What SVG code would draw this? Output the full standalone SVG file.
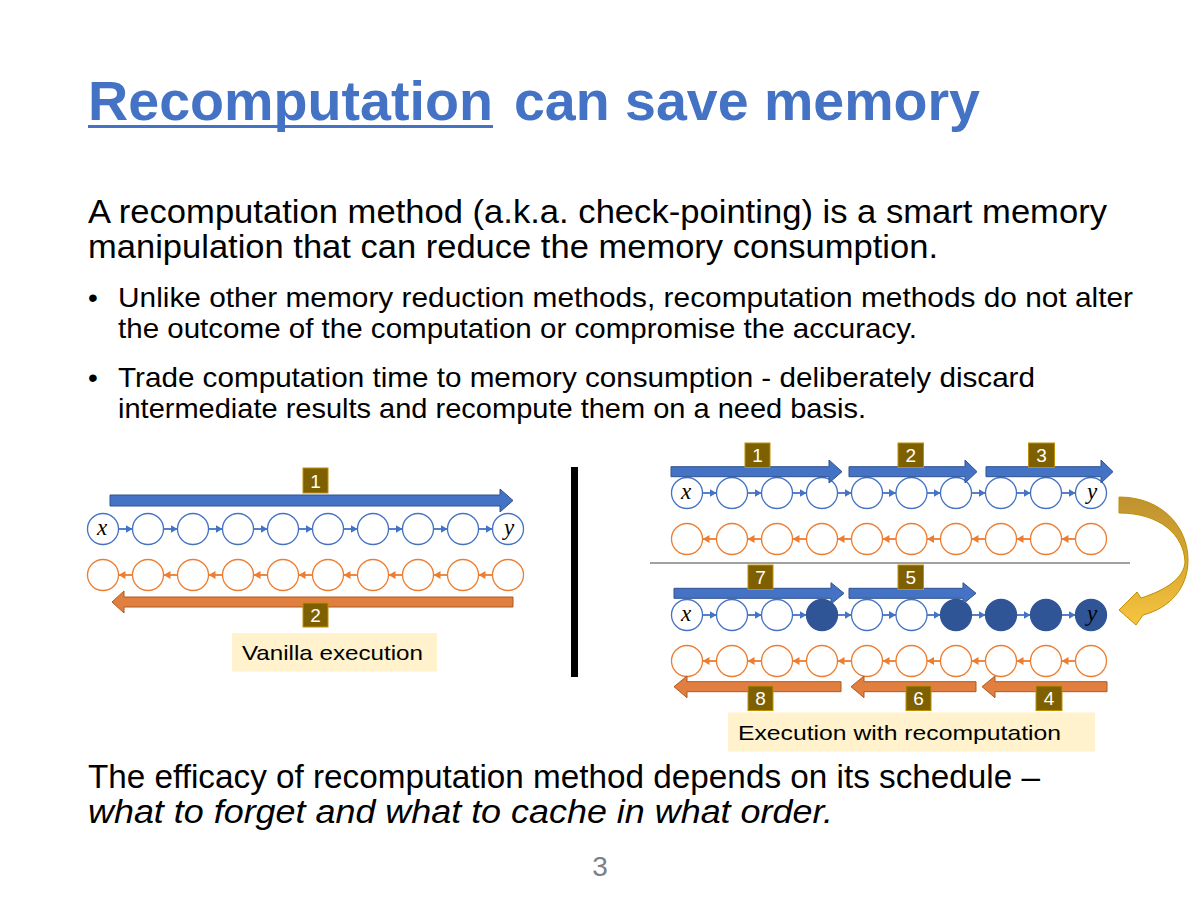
<svg xmlns="http://www.w3.org/2000/svg" width="1200" height="900" viewBox="0 0 1200 900">
<style>
.t{font-family:"Liberation Sans",Arial,sans-serif;fill:#000}
.fc{fill:#fff;stroke:#4472c4;stroke-width:1.3}
.bc{fill:#fff;stroke:#ed7d31;stroke-width:1.3}
.dc{fill:#2f5597;stroke:#2f5597;stroke-width:1.3}
.fl{stroke:#4472c4;stroke-width:1.8;marker-end:url(#mb)}
.bl{stroke:#ed7d31;stroke-width:1.8;marker-end:url(#mo)}
.ba{fill:#4472c4;stroke:#2f528f;stroke-width:1}
.oa{fill:#e07f40;stroke:#ae5a21;stroke-width:1}
.lb{fill:#7f6000;stroke:#bf9000;stroke-width:1}
.lt{font-family:"Liberation Sans",Arial,sans-serif;font-size:19px;fill:#fff;text-anchor:middle}
.v{font-family:"Liberation Serif","Times New Roman",serif;font-style:italic;font-size:23px;text-anchor:middle;fill:#000}
.cap{fill:#fff2cc}
</style>
<defs>
<marker id="mb" markerUnits="userSpaceOnUse" markerWidth="7" markerHeight="8" refX="7" refY="4" orient="auto"><path d="M0,0 L7,4 L0,8 z" fill="#4472c4"/></marker>
<marker id="mo" markerUnits="userSpaceOnUse" markerWidth="7" markerHeight="8" refX="7" refY="4" orient="auto"><path d="M0,0 L7,4 L0,8 z" fill="#ed7d31"/></marker>
<linearGradient id="gold" x1="0" y1="0" x2="0" y2="1"><stop offset="0" stop-color="#bf9230"/><stop offset="0.5" stop-color="#d9a832"/><stop offset="1" stop-color="#f7c440"/></linearGradient>
</defs>
<rect width="1200" height="900" fill="#fff"/>

<g id="title">
<text x="88" y="120" font-family="Liberation Sans,Arial,sans-serif" font-weight="bold" font-size="55" fill="#4472c4" textLength="405" lengthAdjust="spacingAndGlyphs">Recomputation</text>
<rect x="88" y="125" width="405" height="3" fill="#4472c4"/>
<text x="514" y="120" font-family="Liberation Sans,Arial,sans-serif" font-weight="bold" font-size="55" fill="#4472c4" textLength="466" lengthAdjust="spacingAndGlyphs">can save memory</text>
</g>

<g id="body-text">
<text class="t" x="88" y="223" font-size="33" textLength="1019" lengthAdjust="spacingAndGlyphs">A recomputation method (a.k.a. check-pointing) is a smart memory</text>
<text class="t" x="88" y="258" font-size="33" textLength="850" lengthAdjust="spacingAndGlyphs">manipulation that can reduce the memory consumption.</text>
<text class="t" x="88" y="307" font-size="28">•</text>
<text class="t" x="118" y="307" font-size="28" textLength="1015" lengthAdjust="spacingAndGlyphs">Unlike other memory reduction methods, recomputation methods do not alter</text>
<text class="t" x="118" y="338" font-size="28" textLength="799" lengthAdjust="spacingAndGlyphs">the outcome of the computation or compromise the accuracy.</text>
<text class="t" x="88" y="387" font-size="28">•</text>
<text class="t" x="118" y="387" font-size="28" textLength="917" lengthAdjust="spacingAndGlyphs">Trade computation time to memory consumption - deliberately discard</text>
<text class="t" x="118" y="418" font-size="28" textLength="748" lengthAdjust="spacingAndGlyphs">intermediate results and recompute them on a need basis.</text>
<text class="t" x="88" y="788" font-size="33" textLength="952" lengthAdjust="spacingAndGlyphs">The efficacy of recomputation method depends on its schedule –</text>
<text class="t" x="88" y="823" font-size="33" font-style="italic" textLength="745" lengthAdjust="spacingAndGlyphs">what to forget and what to cache in what order.</text>
<text x="600" y="876" font-family="Liberation Sans,Arial,sans-serif" font-size="28" fill="#7f7f7f" text-anchor="middle">3</text>
</g>

<g id="divider"><rect x="571" y="467" width="7" height="210" fill="#000"/></g>
<g id="separator"><line x1="650" y1="563" x2="1130" y2="563" stroke="#808080" stroke-width="1.5"/></g>

<g id="connectors">
<line class="fl" x1="118.5" y1="529" x2="132.5" y2="529"/>
<line class="fl" x1="163.5" y1="529" x2="177.5" y2="529"/>
<line class="fl" x1="208.5" y1="529" x2="222.5" y2="529"/>
<line class="fl" x1="253.5" y1="529" x2="267.5" y2="529"/>
<line class="fl" x1="298.5" y1="529" x2="312.5" y2="529"/>
<line class="fl" x1="343.5" y1="529" x2="357.5" y2="529"/>
<line class="fl" x1="388.5" y1="529" x2="402.5" y2="529"/>
<line class="fl" x1="433.5" y1="529" x2="447.5" y2="529"/>
<line class="fl" x1="478.5" y1="529" x2="492.5" y2="529"/>
<line class="bl" x1="132.5" y1="575" x2="118.5" y2="575"/>
<line class="bl" x1="177.5" y1="575" x2="163.5" y2="575"/>
<line class="bl" x1="222.5" y1="575" x2="208.5" y2="575"/>
<line class="bl" x1="267.5" y1="575" x2="253.5" y2="575"/>
<line class="bl" x1="312.5" y1="575" x2="298.5" y2="575"/>
<line class="bl" x1="357.5" y1="575" x2="343.5" y2="575"/>
<line class="bl" x1="402.5" y1="575" x2="388.5" y2="575"/>
<line class="bl" x1="447.5" y1="575" x2="433.5" y2="575"/>
<line class="bl" x1="492.5" y1="575" x2="478.5" y2="575"/>
<line class="fl" x1="702.5" y1="493" x2="716.5" y2="493"/>
<line class="fl" x1="747.5" y1="493" x2="761.5" y2="493"/>
<line class="fl" x1="792.5" y1="493" x2="806.5" y2="493"/>
<line class="fl" x1="837.5" y1="493" x2="851.5" y2="493"/>
<line class="fl" x1="882.5" y1="493" x2="896" y2="493"/>
<line class="fl" x1="927" y1="493" x2="940.5" y2="493"/>
<line class="fl" x1="971.5" y1="493" x2="985.5" y2="493"/>
<line class="fl" x1="1016.5" y1="493" x2="1030.5" y2="493"/>
<line class="fl" x1="1061.5" y1="493" x2="1075.5" y2="493"/>
<line class="bl" x1="716.5" y1="539" x2="702.5" y2="539"/>
<line class="bl" x1="761.5" y1="539" x2="747.5" y2="539"/>
<line class="bl" x1="806.5" y1="539" x2="792.5" y2="539"/>
<line class="bl" x1="851.5" y1="539" x2="837.5" y2="539"/>
<line class="bl" x1="896" y1="539" x2="882.5" y2="539"/>
<line class="bl" x1="940.5" y1="539" x2="927" y2="539"/>
<line class="bl" x1="985.5" y1="539" x2="971.5" y2="539"/>
<line class="bl" x1="1030.5" y1="539" x2="1016.5" y2="539"/>
<line class="bl" x1="1075.5" y1="539" x2="1061.5" y2="539"/>
<line class="fl" x1="702.5" y1="615" x2="716.5" y2="615"/>
<line class="fl" x1="747.5" y1="615" x2="761.5" y2="615"/>
<line class="fl" x1="792.5" y1="615" x2="806.5" y2="615"/>
<line class="fl" x1="837.5" y1="615" x2="851.5" y2="615"/>
<line class="fl" x1="882.5" y1="615" x2="896" y2="615"/>
<line class="fl" x1="927" y1="615" x2="940.5" y2="615"/>
<line class="fl" x1="971.5" y1="615" x2="985.5" y2="615"/>
<line class="fl" x1="1016.5" y1="615" x2="1030.5" y2="615"/>
<line class="fl" x1="1061.5" y1="615" x2="1075.5" y2="615"/>
<line class="bl" x1="716.5" y1="661" x2="702.5" y2="661"/>
<line class="bl" x1="761.5" y1="661" x2="747.5" y2="661"/>
<line class="bl" x1="806.5" y1="661" x2="792.5" y2="661"/>
<line class="bl" x1="851.5" y1="661" x2="837.5" y2="661"/>
<line class="bl" x1="896" y1="661" x2="882.5" y2="661"/>
<line class="bl" x1="940.5" y1="661" x2="927" y2="661"/>
<line class="bl" x1="985.5" y1="661" x2="971.5" y2="661"/>
<line class="bl" x1="1030.5" y1="661" x2="1016.5" y2="661"/>
<line class="bl" x1="1075.5" y1="661" x2="1061.5" y2="661"/>
</g>

<g id="L-f0"><circle class="fc" cx="103" cy="529" r="15.5"/><text class="v" x="102" y="535">x</text></g>
<g id="L-f1"><circle class="fc" cx="148" cy="529" r="15.5"/></g>
<g id="L-f2"><circle class="fc" cx="193" cy="529" r="15.5"/></g>
<g id="L-f3"><circle class="fc" cx="238" cy="529" r="15.5"/></g>
<g id="L-f4"><circle class="fc" cx="283" cy="529" r="15.5"/></g>
<g id="L-f5"><circle class="fc" cx="328" cy="529" r="15.5"/></g>
<g id="L-f6"><circle class="fc" cx="373" cy="529" r="15.5"/></g>
<g id="L-f7"><circle class="fc" cx="418" cy="529" r="15.5"/></g>
<g id="L-f8"><circle class="fc" cx="463" cy="529" r="15.5"/></g>
<g id="L-f9"><circle class="fc" cx="508" cy="529" r="15.5"/><text class="v" x="509" y="535">y</text></g>
<g id="L-b0"><circle class="bc" cx="103" cy="575" r="15.5"/></g>
<g id="L-b1"><circle class="bc" cx="148" cy="575" r="15.5"/></g>
<g id="L-b2"><circle class="bc" cx="193" cy="575" r="15.5"/></g>
<g id="L-b3"><circle class="bc" cx="238" cy="575" r="15.5"/></g>
<g id="L-b4"><circle class="bc" cx="283" cy="575" r="15.5"/></g>
<g id="L-b5"><circle class="bc" cx="328" cy="575" r="15.5"/></g>
<g id="L-b6"><circle class="bc" cx="373" cy="575" r="15.5"/></g>
<g id="L-b7"><circle class="bc" cx="418" cy="575" r="15.5"/></g>
<g id="L-b8"><circle class="bc" cx="463" cy="575" r="15.5"/></g>
<g id="L-b9"><circle class="bc" cx="508" cy="575" r="15.5"/></g>

<g id="L-arrow1"><polygon class="ba" points="110,495 500,495 500,489 513,500.5 500,512 500,506 110,506"/><rect class="lb" x="303" y="468" width="25" height="25"/><text class="lt" x="315.5" y="487.5">1</text></g>
<g id="L-arrow2"><polygon class="oa" points="513,597 124,597 124,591 112,602 124,613 124,607 513,607"/><rect class="lb" x="303" y="603" width="25" height="24"/><text class="lt" x="315.5" y="622">2</text></g>
<g id="L-caption"><rect class="cap" x="232" y="633" width="205" height="38.5"/><text class="t" x="242" y="660" font-size="21" textLength="181" lengthAdjust="spacingAndGlyphs">Vanilla execution</text></g>

<g id="RT-f0"><circle class="fc" cx="687" cy="493" r="15.5"/><text class="v" x="686" y="499">x</text></g>
<g id="RT-f1"><circle class="fc" cx="732" cy="493" r="15.5"/></g>
<g id="RT-f2"><circle class="fc" cx="777" cy="493" r="15.5"/></g>
<g id="RT-f3"><circle class="fc" cx="822" cy="493" r="15.5"/></g>
<g id="RT-f4"><circle class="fc" cx="867" cy="493" r="15.5"/></g>
<g id="RT-f5"><circle class="fc" cx="911.5" cy="493" r="15.5"/></g>
<g id="RT-f6"><circle class="fc" cx="956" cy="493" r="15.5"/></g>
<g id="RT-f7"><circle class="fc" cx="1001" cy="493" r="15.5"/></g>
<g id="RT-f8"><circle class="fc" cx="1046" cy="493" r="15.5"/></g>
<g id="RT-f9"><circle class="fc" cx="1091" cy="493" r="15.5"/><text class="v" x="1092" y="499">y</text></g>
<g id="RT-b0"><circle class="bc" cx="687" cy="539" r="15.5"/></g>
<g id="RT-b1"><circle class="bc" cx="732" cy="539" r="15.5"/></g>
<g id="RT-b2"><circle class="bc" cx="777" cy="539" r="15.5"/></g>
<g id="RT-b3"><circle class="bc" cx="822" cy="539" r="15.5"/></g>
<g id="RT-b4"><circle class="bc" cx="867" cy="539" r="15.5"/></g>
<g id="RT-b5"><circle class="bc" cx="911.5" cy="539" r="15.5"/></g>
<g id="RT-b6"><circle class="bc" cx="956" cy="539" r="15.5"/></g>
<g id="RT-b7"><circle class="bc" cx="1001" cy="539" r="15.5"/></g>
<g id="RT-b8"><circle class="bc" cx="1046" cy="539" r="15.5"/></g>
<g id="RT-b9"><circle class="bc" cx="1091" cy="539" r="15.5"/></g>

<g id="RT-arrow1"><polygon class="ba" points="671,466.7 829,466.7 829,460 842,471.7 829,483 829,476.7 671,476.7"/><rect class="lb" x="745" y="443" width="25" height="24.5"/><text class="lt" x="757.5" y="462">1</text></g>
<g id="RT-arrow2"><polygon class="ba" points="849,466.7 965,466.7 965,460 977,471.7 965,483 965,476.7 849,476.7"/><rect class="lb" x="898" y="443" width="25.5" height="24.5"/><text class="lt" x="910.7" y="462">2</text></g>
<g id="RT-arrow3"><polygon class="ba" points="986,466.7 1101,466.7 1101,460 1113,471.7 1101,483 1101,476.7 986,476.7"/><rect class="lb" x="1028.5" y="443" width="26" height="24.5"/><text class="lt" x="1041.5" y="462">3</text></g>

<g id="RB-f0"><circle class="fc" cx="687" cy="615" r="15.5"/><text class="v" x="686" y="621">x</text></g>
<g id="RB-f1"><circle class="fc" cx="732" cy="615" r="15.5"/></g>
<g id="RB-f2"><circle class="fc" cx="777" cy="615" r="15.5"/></g>
<g id="RB-f3"><circle class="dc" cx="822" cy="615" r="15.5"/></g>
<g id="RB-f4"><circle class="fc" cx="867" cy="615" r="15.5"/></g>
<g id="RB-f5"><circle class="fc" cx="911.5" cy="615" r="15.5"/></g>
<g id="RB-f6"><circle class="dc" cx="956" cy="615" r="15.5"/></g>
<g id="RB-f7"><circle class="dc" cx="1001" cy="615" r="15.5"/></g>
<g id="RB-f8"><circle class="dc" cx="1046" cy="615" r="15.5"/></g>
<g id="RB-f9"><circle class="dc" cx="1091" cy="615" r="15.5"/><text class="v" x="1092" y="621">y</text></g>
<g id="RB-b0"><circle class="bc" cx="687" cy="661" r="15.5"/></g>
<g id="RB-b1"><circle class="bc" cx="732" cy="661" r="15.5"/></g>
<g id="RB-b2"><circle class="bc" cx="777" cy="661" r="15.5"/></g>
<g id="RB-b3"><circle class="bc" cx="822" cy="661" r="15.5"/></g>
<g id="RB-b4"><circle class="bc" cx="867" cy="661" r="15.5"/></g>
<g id="RB-b5"><circle class="bc" cx="911.5" cy="661" r="15.5"/></g>
<g id="RB-b6"><circle class="bc" cx="956" cy="661" r="15.5"/></g>
<g id="RB-b7"><circle class="bc" cx="1001" cy="661" r="15.5"/></g>
<g id="RB-b8"><circle class="bc" cx="1046" cy="661" r="15.5"/></g>
<g id="RB-b9"><circle class="bc" cx="1091" cy="661" r="15.5"/></g>

<g id="RB-arrow7"><polygon class="ba" points="674,588.3 831,588.3 831,582.7 844,593.3 831,604 831,598.3 674,598.3"/><rect class="lb" x="748" y="565" width="25" height="24.5"/><text class="lt" x="760.5" y="584">7</text></g>
<g id="RB-arrow5"><polygon class="ba" points="849,588.3 963,588.3 963,582.7 976,593.3 963,604 963,598.3 849,598.3"/><rect class="lb" x="898" y="565" width="25.5" height="24.5"/><text class="lt" x="910.7" y="584">5</text></g>
<g id="RB-arrow8"><polygon class="oa" points="841,681.7 687,681.7 687,676 674,686.7 687,697.7 687,691.7 841,691.7"/><rect class="lb" x="748" y="686" width="25" height="24.5"/><text class="lt" x="760.5" y="705">8</text></g>
<g id="RB-arrow6"><polygon class="oa" points="976,681.7 864,681.7 864,676 851,686.7 864,697.7 864,691.7 976,691.7"/><rect class="lb" x="906" y="686" width="25" height="24.5"/><text class="lt" x="918.5" y="705">6</text></g>
<g id="RB-arrow4"><polygon class="oa" points="1107,681.7 995,681.7 995,676 982,686.7 995,697.7 995,691.7 1107,691.7"/><rect class="lb" x="1036" y="686" width="26" height="24.5"/><text class="lt" x="1049" y="705">4</text></g>

<g id="R-caption"><rect class="cap" x="728" y="712.5" width="367" height="39"/><text class="t" x="738" y="740" font-size="21" textLength="323" lengthAdjust="spacingAndGlyphs">Execution with recomputation</text></g>

<g id="curved-arrow"><path d="M1119,497 C1162,497 1188,527 1188,560 C1188,588 1170,608 1143,615 L1136,625 L1119,610 L1137,592 L1141,598 C1166,590 1184,578 1185,562 C1184,535 1160,513 1119,513 Z" fill="url(#gold)" stroke="#bf9000" stroke-width="1"/></g>
</svg>
